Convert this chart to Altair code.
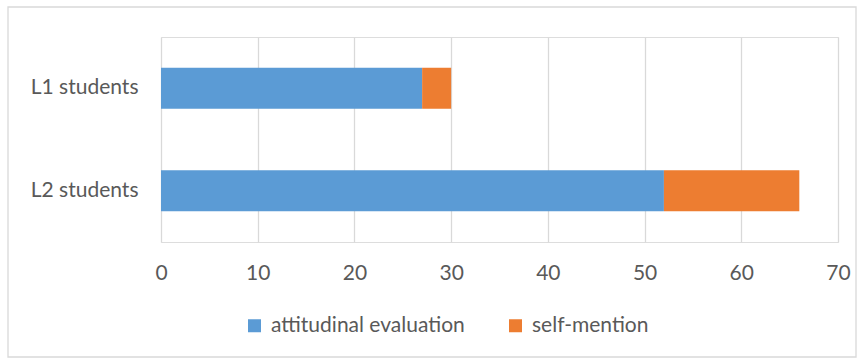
import altair as alt
import pandas as pd

groups = ["L1 students", "L2 students"]
attitudinal = [27, 52]
self_mention = [3, 14]
series = ["attitudinal evaluation", "self-mention"]
colors = ["#5B9BD5", "#ED7D31"]

rows = []
for g, a, s in zip(groups, attitudinal, self_mention):
    rows.append({"group": g, "series": series[0], "value": a, "ord": 0})
    rows.append({"group": g, "series": series[1], "value": s, "ord": 1})
df = pd.DataFrame(rows)

FONT = "Lato"
TXT = "#595959"
FS = 21

bars = alt.Chart(df).mark_bar(size=41).encode(
    x=alt.X("value:Q", stack="zero",
            scale=alt.Scale(domain=[0, 70], nice=False),
            axis=alt.Axis(values=list(range(0, 80, 10)), title=None, grid=True,
                          gridColor="#D9D9D9", gridWidth=1.3, domain=False,
                          ticks=False, labelFlush=False,
                          labelPadding=20, labelFontSize=FS, labelColor=TXT, labelFont=FONT)),
    y=alt.Y("group:N", sort=groups,
            scale=alt.Scale(paddingInner=0, paddingOuter=0),
            axis=alt.Axis(title=None, domain=False, ticks=False, grid=False,
                          labelPadding=23,
                          labelFontSize=FS, labelColor=TXT, labelFont=FONT)),
    color=alt.Color("series:N", sort=series,
                    scale=alt.Scale(domain=series, range=colors),
                    legend=alt.Legend(title=None, orient="none", direction="horizontal",
                                      legendX=83, legendY=278, symbolType="square",
                                      symbolSize=169, symbolStrokeWidth=0, symbolOpacity=1,
                                      labelFontSize=FS, labelColor=TXT, labelFont=FONT,
                                      labelLimit=400, labelOffset=6, columnPadding=40)),
    order=alt.Order("ord:Q"),
)

border = alt.Chart(alt.Data(values=[{}])).mark_rect(
    fill=None, stroke="#D9D9D9", strokeWidth=1.3, clip=False
).encode(
    x=alt.value(-153), x2=alt.value(695), y=alt.value(-30), y2=alt.value(320)
)

chart = alt.layer(border, bars).properties(
    width=677, height=205,
    autosize=alt.AutoSizeParams(type="none"),
    padding={"left": 161, "top": 37, "right": 27, "bottom": 116},
).configure_view(strokeWidth=0, strokeOpacity=0).configure_axis(domain=False).configure(background="white")

chart.save("out.html", embed_options={"renderer": "svg", "actions": False})
